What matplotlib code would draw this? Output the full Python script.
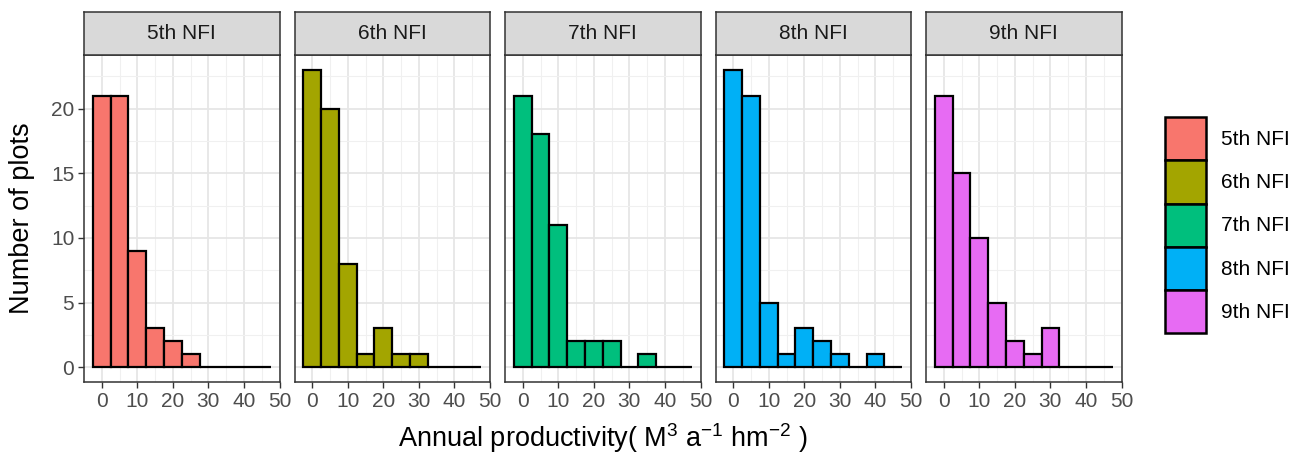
import numpy as np
import matplotlib
matplotlib.use("Agg")
import matplotlib.pyplot as plt
from matplotlib.patches import Patch

plt.rcParams['font.family'] = ['Liberation Sans', 'DejaVu Sans']
plt.rcParams['mathtext.fontset'] = 'custom'
plt.rcParams['mathtext.rm'] = 'Liberation Sans'
plt.rcParams['mathtext.it'] = 'Liberation Sans'

# histogram bins (width 5, centred on 0, 5, ..., 45)
bin_centers = [0, 5, 10, 15, 20, 25, 30, 35, 40, 45]
panels = ['5th NFI', '6th NFI', '7th NFI', '8th NFI', '9th NFI']
counts_5th = [21, 21, 9, 3, 2, 1, 0, 0, 0, 0]
counts_6th = [23, 20, 8, 1, 3, 1, 1, 0, 0, 0]
counts_7th = [21, 18, 11, 2, 2, 2, 0, 1, 0, 0]
counts_8th = [23, 21, 5, 1, 3, 2, 1, 0, 1, 0]
counts_9th = [21, 15, 10, 5, 2, 1, 3, 0, 0, 0]
all_counts = [counts_5th, counts_6th, counts_7th, counts_8th, counts_9th]
colors = ['#F8766D', '#A3A500', '#00BF7D', '#00B0F6', '#E76BF3']

W, H = 1296, 458
fig = plt.figure(figsize=(W / 100, H / 100), dpi=100)

def fx(px):
    return px / W

def fy(py):
    return 1 - py / H

panel_w = 195.5
strip_top, panel_top, panel_bot = 12, 55, 382
for i, (name, counts, col) in enumerate(zip(panels, all_counts, colors)):
    left = 84 + i * 210.5
    ax = fig.add_axes([fx(left), fy(panel_bot), panel_w / W, (panel_bot - panel_top) / H])
    ax.bar(bin_centers, counts, width=5, color=col, edgecolor='black', linewidth=1.6, zorder=3)
    ax.set_xlim(-5, 50)
    ax.set_ylim(-1.15, 24.15)
    ax.set_xticks([0, 10, 20, 30, 40, 50])
    ax.set_xticks([5, 15, 25, 35, 45], minor=True)
    ax.set_yticks([0, 5, 10, 15, 20])
    ax.set_yticks([2.5, 7.5, 12.5, 17.5, 22.5], minor=True)
    ax.grid(which='major', color='#E6E6E6', linewidth=1.3, zorder=0)
    ax.grid(which='minor', color='#F0F0F0', linewidth=0.8, zorder=0)
    ax.set_axisbelow(True)
    ax.tick_params(which='minor', length=0)
    ax.tick_params(which='major', length=4, width=1, color='#333333',
                   labelsize=15, labelcolor='#4D4D4D', pad=3)
    for s in ax.spines.values():
        s.set_color('#333333')
        s.set_linewidth(1.1)
    if i > 0:
        ax.tick_params(axis='y', left=False, labelleft=False)
    # facet strip
    sax = fig.add_axes([fx(left), fy(panel_top), panel_w / W, (panel_top - strip_top) / H])
    sax.set_facecolor('#D9D9D9')
    sax.set_xticks([])
    sax.set_yticks([])
    for s in sax.spines.values():
        s.set_color('#333333')
        s.set_linewidth(1.1)
    sax.text(0.5, 0.5, name, ha='center', va='center', fontsize=15, color='#1A1A1A',
             transform=sax.transAxes)

fig.text(fx(22), fy(218), 'Number of plots', rotation=90, ha='center', va='center',
         fontsize=19.5, color='black')
fig.text(fx(603), fy(438), 'Annual productivity( M$^3$ a$^{-1}$ hm$^{-2}$ )',
         ha='center', va='center', fontsize=19.5, color='black')

handles = [Patch(facecolor=c, edgecolor='black', linewidth=1.8) for c in colors]
fig.legend(handles, panels, loc='upper left', bbox_to_anchor=(fx(1165), fy(117)),
           frameon=False, fontsize=15, handlelength=1.95, handleheight=2.82,
           labelspacing=0.0, handletextpad=0.75, borderpad=0, borderaxespad=0)

fig.savefig('out.png', dpi=100)
